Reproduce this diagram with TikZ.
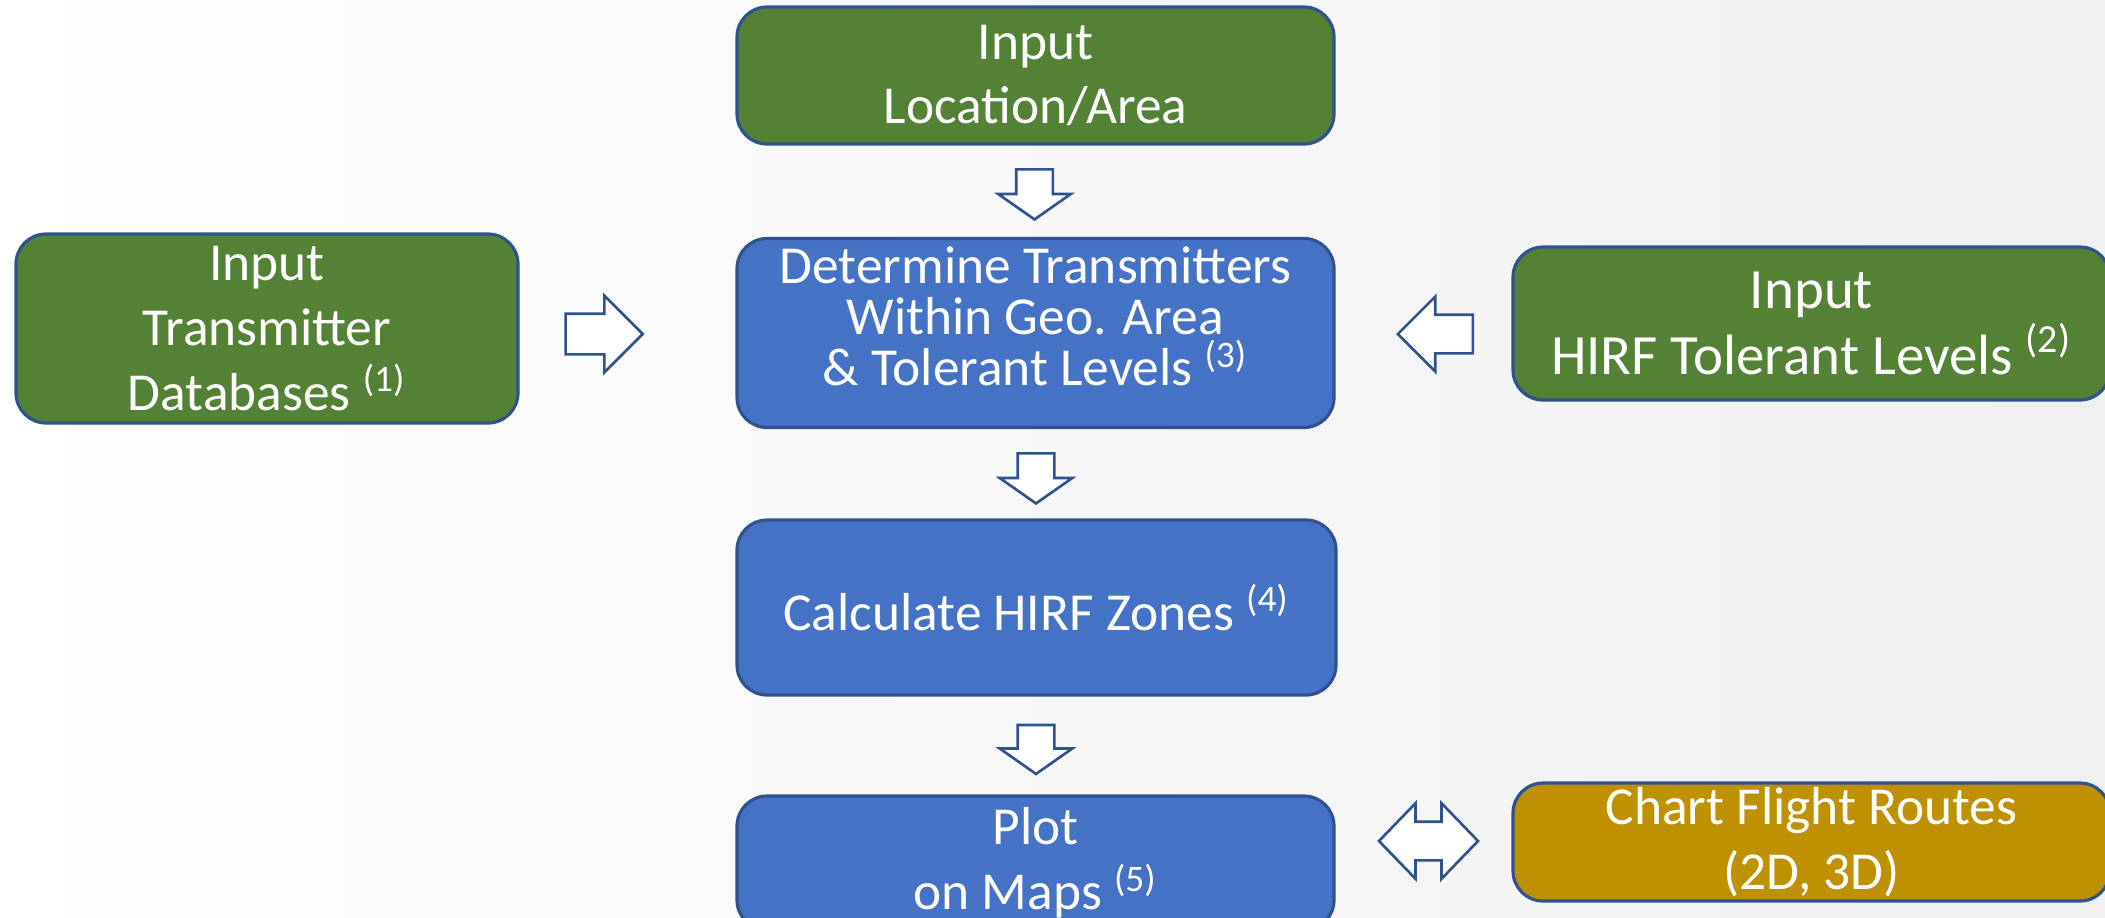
\documentclass[tikz,border=0pt]{standalone}
\usepackage{fontspec}
\setmainfont{Carlito}
\usepackage{xcolor}
\usepackage{tikz}
\usetikzlibrary{shapes.arrows}
\definecolor{inputgreen}{HTML}{548235}
\definecolor{stepblue}{HTML}{4472C4}
\definecolor{routegold}{HTML}{BF9000}
\definecolor{rimblue}{HTML}{2F528F}

\begin{document}
\begin{tikzpicture}[line width=0.8pt]
\tikzstyle{box}=[rectangle, rounded corners=0.3cm, draw=rimblue, line width=0.9pt,
                 text=white, align=center, inner sep=0pt,
                 font=\fontsize{15.2}{18.4}\selectfont]
\tikzstyle{flow}=[single arrow, draw=rimblue, fill=white, line width=0.75pt,
                  inner xsep=0pt, minimum width=0pt]
\tikzstyle{swap}=[double arrow, draw=rimblue, fill=white, line width=0.75pt,
                  inner xsep=0pt, minimum width=0pt]
  \useasboundingbox (0,0) rectangle (21.05,-9.17);
  \shade[left color=white, right color=black!6] (0,0) rectangle (21.05,-9.17);

  \node[box, fill=inputgreen, minimum width=5.97cm, minimum height=1.37cm] (loc) at (10.355,-0.755)
       {Input\\Location/Area};
  \node[box, fill=stepblue, minimum width=5.97cm, minimum height=1.89cm, text depth=0.34cm,
        font=\fontsize{15.2}{14.6}\selectfont] (det) at (10.355,-3.33)
       {Determine Transmitters\\Within Geo. Area\\\& Tolerant Levels \textsuperscript{(3)}};
  \node[box, fill=stepblue, minimum width=5.99cm, minimum height=1.75cm] (calc) at (10.365,-6.075)
       {Calculate HIRF Zones \textsuperscript{(4)}};
  \node[box, fill=stepblue, minimum width=5.97cm, minimum height=1.34cm] (plot) at (10.355,-8.63)
       {Plot\\on Maps \textsuperscript{(5)}};
  \node[box, fill=inputgreen, minimum width=5.02cm, minimum height=1.89cm] (db) at (2.67,-3.285)
       {Input\\Transmitter\\Databases \textsuperscript{(1)}};
  \node[box, fill=inputgreen, minimum width=5.97cm, minimum height=1.53cm,
        font=\fontsize{16.2}{18.6}\selectfont] (hirf) at (18.115,-3.235)
       {Input\\HIRF Tolerant Levels \textsuperscript{(2)}};
  \node[box, fill=routegold, minimum width=5.97cm, minimum height=1.18cm] (route) at (18.115,-8.42)
       {Chart Flight Routes\\(2D, 3D)};

  \node[flow, rotate=-90, inner ysep=0.17cm, single arrow head extend=0.18cm,
        single arrow tip angle=110, minimum height=0.5cm] (a1) at (10.345,-1.88) {};
  \node[flow, rotate=-90, inner ysep=0.17cm, single arrow head extend=0.18cm,
        single arrow tip angle=110, minimum height=0.5cm] (a2) at (10.36,-4.72) {};
  \node[flow, rotate=-90, inner ysep=0.17cm, single arrow head extend=0.18cm,
        single arrow tip angle=110, minimum height=0.49cm] (a3) at (10.36,-7.43) {};
  \node[flow, inner ysep=0.19cm, single arrow head extend=0.18cm,
        minimum height=0.77cm] (a4) at (5.94,-3.34) {};
  \node[flow, rotate=180, inner ysep=0.18cm, single arrow head extend=0.18cm,
        minimum height=0.75cm] (a5) at (14.45,-3.34) {};
  \node[swap, inner ysep=0.18cm, double arrow head extend=0.185cm,
        double arrow tip angle=92, minimum height=0.99cm] (a6) at (14.285,-8.41) {};
\end{tikzpicture}
\end{document}
